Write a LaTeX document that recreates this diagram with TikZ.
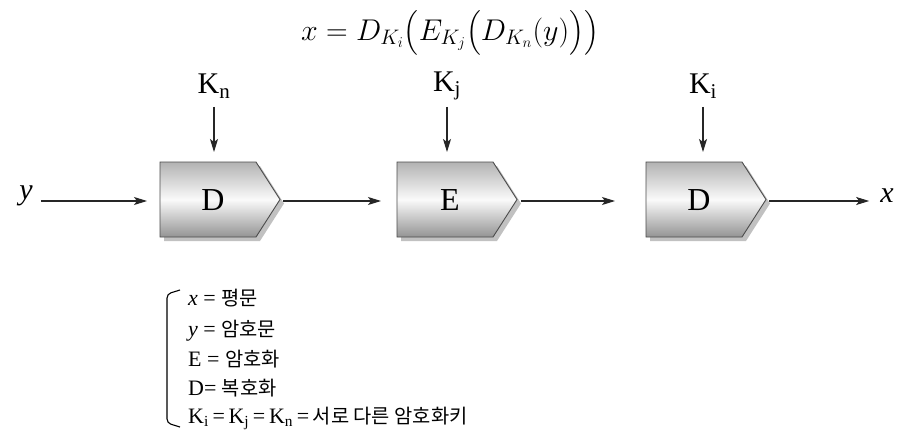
\documentclass[tikz,border=0pt]{standalone}
\usepackage{fix-cm}
\usepackage{amsmath}
\usepackage{fontspec}
\setmainfont{Liberation Serif}
\newfontfamily\kr[Scale=0.9]{Noto Sans CJK KR}
\usetikzlibrary{arrows.meta,shadows}
\newcommand\cryptobox[3]{%
  \path[cbox] (#2,162) -- ({#2+96},162) -- ({#2+120},199.5) -- ({#2+96},237) -- (#2,237) -- cycle;
  \node[blabel] (#1) at ({#2+53},200) {#3};
  \coordinate (#1-in) at (#2,201);
  \coordinate (#1-out) at ({#2+120},201);
  \coordinate (#1-top) at ({#2+54},162);}
\begin{document}
\begin{tikzpicture}[x=1pt,y=-1pt,
  cbox/.style={draw=black!70, line width=0.9pt, top color=black!30, bottom color=black!42, middle color=black!2,
    drop shadow={shadow xshift=4pt, shadow yshift=-4pt, fill=black!40, opacity=0.6}},
  blabel/.style={font=\fontsize{32}{36}\selectfont, inner sep=0pt},
  klabel/.style={font=\fontsize{30}{34}\selectfont, inner sep=0pt},
  conn/.style={line width=1.1pt, draw=black!85, -{Stealth[length=13pt,width=8pt,inset=3pt]}},
  legend/.style={font=\fontsize{22}{26}\selectfont, anchor=base west, inner sep=0pt}]
\fill[white] (0,0) rectangle (901,433);
\useasboundingbox (0,0) rectangle (901,433);

\node[inner sep=0pt, anchor=north] (formula) at (450,10) {\fontsize{30}{36}\selectfont $x = D_{K_i}\bigl(E_{K_j}\bigl(D_{K_n}(y)\bigr)\bigr)$};

\cryptobox{b1}{160}{D}
\cryptobox{b2}{397}{E}
\cryptobox{b3}{646}{D}

\node[klabel] (kn) at (214,86) {K\textsubscript{n}};
\node[klabel] (kj) at (447,86) {K\textsubscript{j}};
\node[klabel] (ki) at (703,86) {K\textsubscript{i}};
\draw[conn, shorten >=10pt] (kn.south |- 0,107) -- (kn.south |- b1-top);
\draw[conn, shorten >=10pt] (kj.south |- 0,107) -- (kj.south |- b2-top);
\draw[conn, shorten >=10pt] (ki.south |- 0,107) -- (ki.south |- b3-top);

\node[klabel, font=\fontsize{30}{34}\selectfont\itshape] (yin) at (26,196) {y};
\node[klabel, font=\fontsize{30}{34}\selectfont\itshape] (xout) at (887,196) {x};
\draw[conn, shorten <=8pt, shorten >=13pt] (yin.east |- b1-in) -- (b1-in);
\draw[conn, shorten <=3pt, shorten >=16pt] (b1-out) -- (b2-in);
\draw[conn, shorten <=4pt, shorten >=31pt] (b2-out) -- (b3-in);
\draw[conn, shorten <=3pt, shorten >=11pt] (b3-out) -- (xout.west |- b3-out);

\draw[line width=1.1pt, rounded corners=4pt] (180,290) -- (167,294) -- (167,423) -- (180,427);
\node[legend] (l1) at (188,305) {\textit{x} = {\kr 평문}};
\node[legend] (l2) at (188,336) {\textit{y} = {\kr 암호문}};
\node[legend] (l3) at (188,366) {E = {\kr 암호화}};
\node[legend] (l4) at (188,395) {D= {\kr 복호화}};
\node[legend] (l5) at (188,423) {K\textsubscript{i}\,=\,K\textsubscript{j}\,=\,K\textsubscript{n}\,=\,{\kr 서로 다른 암호화키}};
\end{tikzpicture}
\end{document}
